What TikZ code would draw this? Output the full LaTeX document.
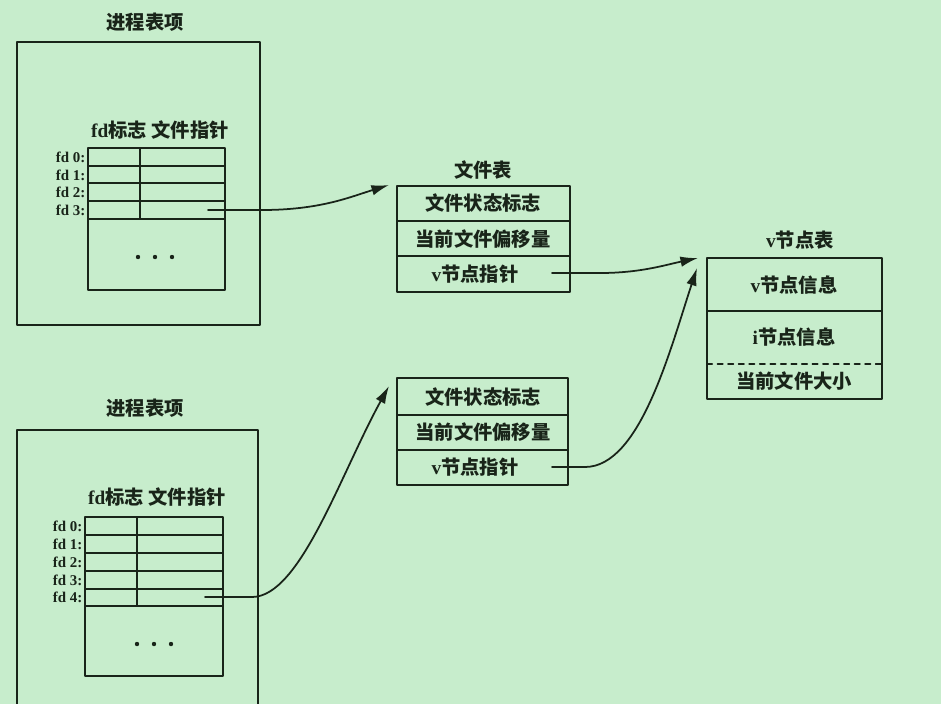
\documentclass[tikz,border=0pt]{standalone}
\usepackage{fontspec}
\setmainfont{Liberation Serif}
\newfontfamily\cjk{Noto Sans CJK SC}
\usetikzlibrary{arrows.meta}
\definecolor{ccebcc}{rgb}{0.78,0.93,0.8}
\definecolor{qqwqqq}{rgb}{0.1,0.14,0.1}

\begin{document}
\begin{tikzpicture}[line cap=round,line join=round,>={Latex[length=10pt,width=6pt]},x=0.02cm,y=-0.02cm,
  color=qqwqqq,line width=1pt,
  title/.style={font=\cjk\bfseries\fontsize{11pt}{13pt}\selectfont},
  cell/.style={font=\cjk\bfseries\fontsize{11pt}{13pt}\selectfont,inner sep=0pt},
  fdlab/.style={left,font=\bfseries\fontsize{8.5pt}{9pt}\selectfont,inner sep=1pt}]
\fill[color=ccebcc] (0,0) rectangle (941,704);
\clip (0,0) rectangle (941,704);
%% process table 1
\node[title] (pt1) at (145,22) {进程表项};
\draw (17,42) rectangle (260,325);
\node[title] (hd1) at (160,130) {{\rmfamily fd}标志 文件指针};
\draw (88,148) rectangle (225,290);
\foreach \y in {166,183,201,219}
\draw (88,\y) -- (225,\y);
\draw (140,148) -- (140,219);
\foreach \i/\y in {0/157,1/175,2/192,3/210}
\node[fdlab] (fa\i) at (88,\y) {fd \i:};
\foreach \x in {138,155,172}
\fill (\x,257) circle (2.2);
%% process table 2
\node[title] (pt2) at (145,408) {进程表项};
\draw (17,720) -- (17,430) -- (258,430) -- (258,720);
\node[title] (hd2) at (157,497) {{\rmfamily fd}标志 文件指针};
\draw (85,517) rectangle (223,676);
\foreach \y in {535,553,571,589,606}
\draw (85,\y) -- (223,\y);
\draw (137,517) -- (137,606);
\foreach \i/\y in {0/526,1/544,2/562,3/580,4/597}
\node[fdlab] (fb\i) at (85,\y) {fd \i:};
\foreach \x in {137,154,171}
\fill (\x,644) circle (2.2);
%% file tables
\node[title] (ft) at (483,170) {文件表};
\draw (397,186) rectangle (570,292);
\draw (397,221) -- (570,221);
\draw (397,256) -- (570,256);
\node[cell] (fa1) at (483,203) {文件状态标志};
\node[cell] (fa2) at (483,239) {当前文件偏移量};
\node[cell] (fa3) at (475,274) {{\rmfamily v}节点指针};
\draw (397,378) rectangle (568,485);
\draw (397,415) -- (568,415);
\draw (397,450) -- (568,450);
\node[cell] (fb1) at (483,397) {文件状态标志};
\node[cell] (fb2) at (483,432) {当前文件偏移量};
\node[cell] (fb3) at (475,467) {{\rmfamily v}节点指针};
%% v-node table
\node[title] (vt) at (800,240) {{\rmfamily v}节点表};
\draw (707,258) rectangle (882,399);
\draw (707,311) -- (882,311);
\draw [dashed] (707,364) -- (882,364);
\node[cell] (v1) at (794,285) {{\rmfamily v}节点信息};
\node[cell] (v2) at (794,337) {{\rmfamily i}节点信息};
\node[cell] (v3) at (794,381) {当前文件大小};
%% pointers
\coordinate (pa) at (208,210);
\coordinate (pb) at (205,597);
\coordinate (qa) at (552,273);
\coordinate (qb) at (552,467);
\coordinate (ta) at (389,185);
\coordinate (tb) at (389,386);
\coordinate (ua) at (698,258);
\coordinate (ub) at (697,268);
\draw [->] (pa) -- (262,210) .. controls (320,210) and (350,197) .. (ta);
\draw [->] (pb) -- (252,597) .. controls (300,597) and (340,475) .. (tb);
\draw [->] (qa) -- (600,273) .. controls (640,273) and (665,265) .. (ua);
\draw [->] (qb) -- (585,467) .. controls (640,467) and (670,350) .. (ub);
\end{tikzpicture}
\end{document}
